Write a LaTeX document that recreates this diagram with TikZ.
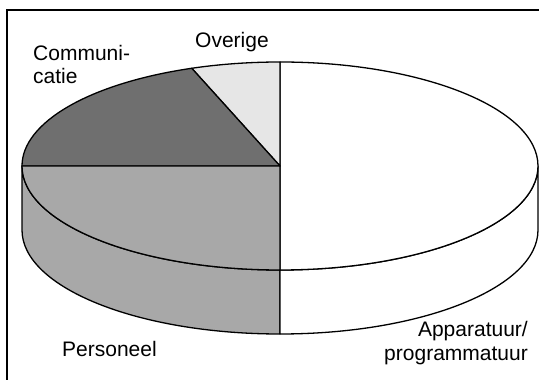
\documentclass[tikz,border=0pt]{standalone}
\usepackage{fontspec}
\setmainfont{Liberation Sans}
\usetikzlibrary{calc}
\begin{document}
\begin{tikzpicture}[x=1pt,y=1pt,
  outline/.style={draw=black,line width=1.3pt,line join=round},
  lbl/.style={inner sep=0pt,font=\fontsize{21}{23}\selectfont},
  pie/.style={x radius=258,y radius=104}]
\useasboundingbox (0,0) rectangle (539,380);
\definecolor{commgray}{HTML}{6F6F6F}
\definecolor{persgray}{HTML}{A8A8A8}
\definecolor{overgray}{HTML}{E6E6E6}
% top centre and bottom centre of the disc
\coordinate (c) at (280,214);
\coordinate (cb) at (280,150);
% frame
\coordinate (fl) at (7,0);
\coordinate (ftl) at (7,370);
\coordinate (fr) at (539,370);
\draw[line width=1.2pt] (fl) -- (ftl) -- (fr);
% side wall, left front quarter
\path[outline,fill=persgray] (22,214) -- (22,150)
  arc[pie,start angle=180,end angle=270] -- (280,110)
  arc[pie,start angle=270,end angle=180] -- cycle;
% side wall, right front quarter
\path[outline,fill=white] (280,110) -- (280,46)
  arc[pie,start angle=270,end angle=360] -- (538,214)
  arc[pie,start angle=0,end angle=-90] -- cycle;
% top face slices
\path[outline,fill=white] (c) -- (280,110)
  arc[pie,start angle=-90,end angle=90] -- cycle;
\path[outline,fill=overgray] (c) -- (280,318)
  arc[pie,start angle=90,end angle=110] -- cycle;
\path[outline,fill=commgray] (c) -- ($(c)+(110:258 and 104)$)
  arc[pie,start angle=110,end angle=180] -- cycle;
\path[outline,fill=persgray] (c) -- (22,214)
  arc[pie,start angle=180,end angle=270] -- cycle;
% labels
\node[lbl,anchor=north west,align=left] (comm) at (33,335) {Communi-\\catie};
\node[lbl,anchor=base west] (over) at (195,332) {Overige};
\node[lbl,anchor=base west] (pers) at (62,23) {Personeel};
\node[lbl,anchor=base east] (app1) at (528,43) {Apparatuur/};
\node[lbl,anchor=base east] (app2) at (528,19) {programmatuur};
\end{tikzpicture}
\end{document}
